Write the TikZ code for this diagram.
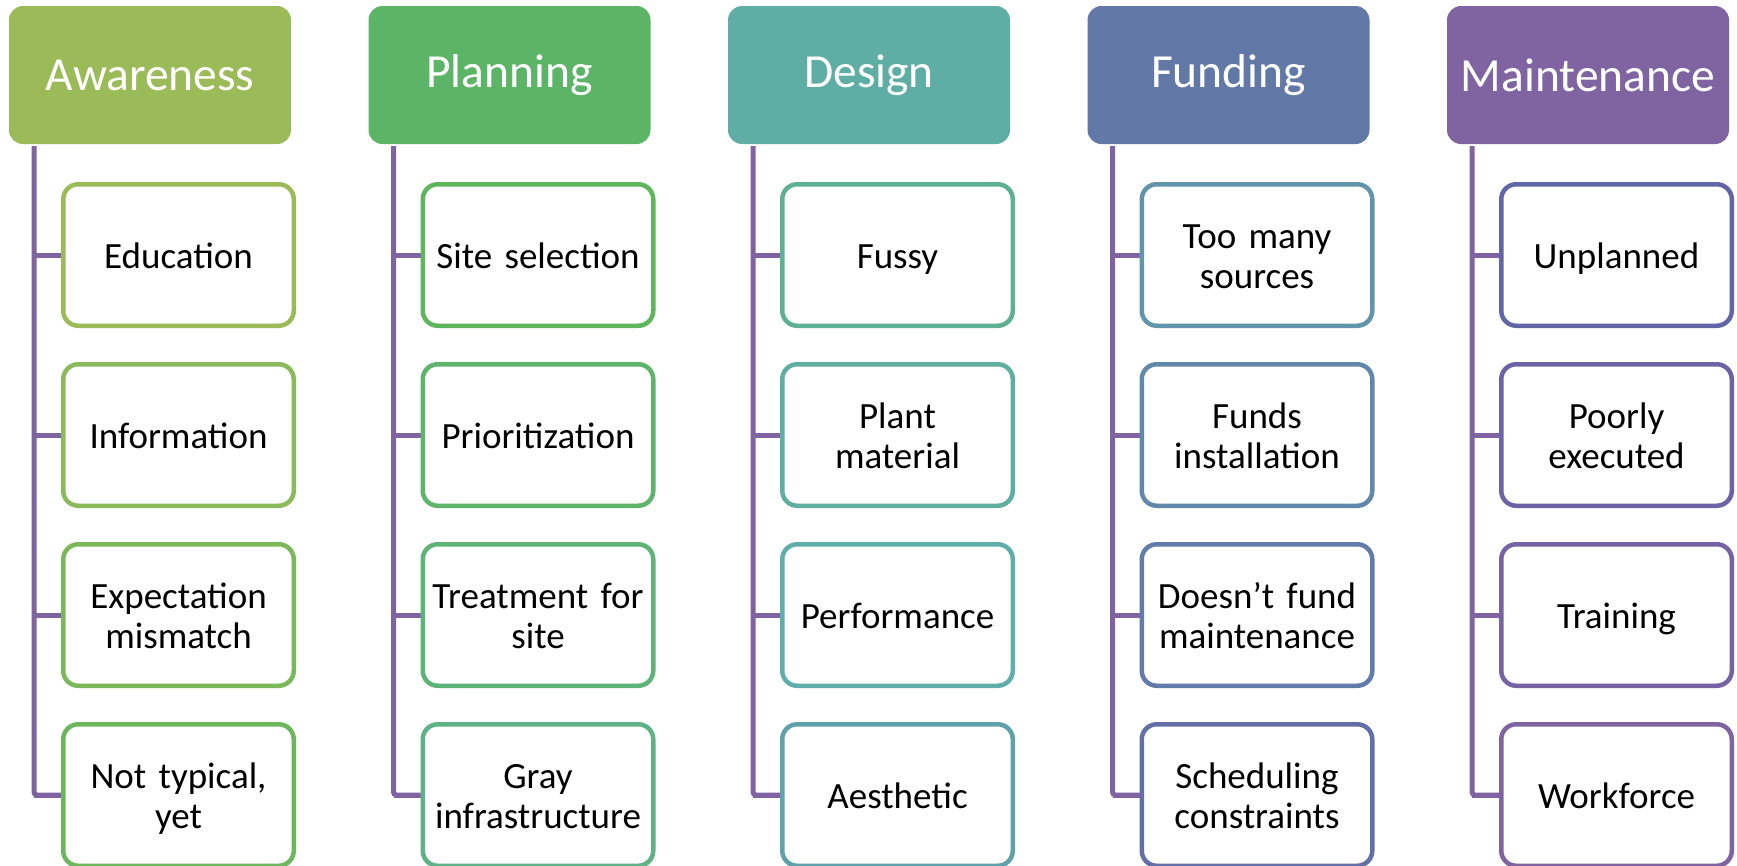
\documentclass[tikz,border=0pt]{standalone}
\usepackage{fontspec}
\setmainfont{Carlito}
\pgfdeclarelayer{bg}
\pgfsetlayers{bg,main}
\definecolor{lineP}{HTML}{8064A2}
\tikzset{
  hdr/.style={draw=none, rounded corners=14pt, minimum width=282pt, minimum height=138pt, inner sep=0pt, text=white, font=\fontsize{47.5}{52}\selectfont},
  child/.style={line width=4.5pt, fill=white, rounded corners=15pt, minimum width=230.5pt, minimum height=141.5pt, inner sep=0pt, align=center, text width=224pt, font=\fontsize{37}{40}\selectfont,
    execute at begin node=\rule{0pt}{33pt}, execute at end node=\vphantom{y}},
  conn/.style={draw=lineP, line width=5pt, rounded corners=3pt}
}
\newcommand\mkhead[2]{%
  \pgfmathsetmacro\L{9+359.5*#1}%
  \pgfmathsetmacro\hh{79.6+#1*46.85}%
  \pgfmathsetmacro\ss{0.524-#1*0.03525}%
  \pgfmathsetmacro\bb{0.733-#1*0.0245}%
  \definecolor{tmpc}{Hsb}{\hh,\ss,\bb}%
  \colorlet{hc}[rgb]{tmpc}%
  \node[hdr, fill=hc] (h#1) at (\L+141,75) {#2};
  \coordinate (t#1) at (\L+25,146);
}
\newcommand\mkchild[3]{%
  \pgfmathsetmacro\L{9+359.5*#1}%
  \pgfmathsetmacro\hh{79.6+(4*#1+#2)*9.863}%
  \pgfmathsetmacro\ss{0.524-(4*#1+#2)*0.00742}%
  \pgfmathsetmacro\bb{0.733-(4*#1+#2)*0.00516}%
  \definecolor{tmpc}{Hsb}{\hh,\ss,\bb}%
  \colorlet{bc}[rgb]{tmpc}%
  \node[child, draw=bc] (c#1#2) at (\L+169.5,255+180*#2) {#3};
  \begin{pgfonlayer}{bg}
    \draw[conn] (t#1 |- c#1#2.west) -- (c#1#2.west);
  \end{pgfonlayer}
}
\newcommand\mkbar[1]{%
  \begin{pgfonlayer}{bg}
    \draw[conn] (t#1) |- (c#13.west);
  \end{pgfonlayer}
}
\begin{document}
\begin{tikzpicture}[x=1pt,y=-1pt]
\useasboundingbox (0,0) rectangle (1737,865);
\begin{pgfonlayer}{bg}
\fill[white] (0,0) rectangle (1737,865);
\end{pgfonlayer}

\mkhead{0}{Awareness}
\mkchild{0}{0}{Education}
\mkchild{0}{1}{Information}
\mkchild{0}{2}{Expectation\\mismatch}
\mkchild{0}{3}{Not typical,\\yet}
\mkbar{0}

\mkhead{1}{Planning}
\mkchild{1}{0}{Site selection}
\mkchild{1}{1}{Prioritization}
\mkchild{1}{2}{Treatment for\\site}
\mkchild{1}{3}{Gray\\infrastructure}
\mkbar{1}

\mkhead{2}{Design}
\mkchild{2}{0}{Fussy}
\mkchild{2}{1}{Plant\\material}
\mkchild{2}{2}{Performance}
\mkchild{2}{3}{Aesthetic}
\mkbar{2}

\mkhead{3}{Funding}
\mkchild{3}{0}{Too many\\sources}
\mkchild{3}{1}{Funds\\installation}
\mkchild{3}{2}{Doesn’t fund\\maintenance}
\mkchild{3}{3}{Scheduling\\constraints}
\mkbar{3}

\mkhead{4}{Maintenance}
\mkchild{4}{0}{Unplanned}
\mkchild{4}{1}{Poorly\\executed}
\mkchild{4}{2}{Training}
\mkchild{4}{3}{Workforce}
\mkbar{4}
\end{tikzpicture}
\end{document}
